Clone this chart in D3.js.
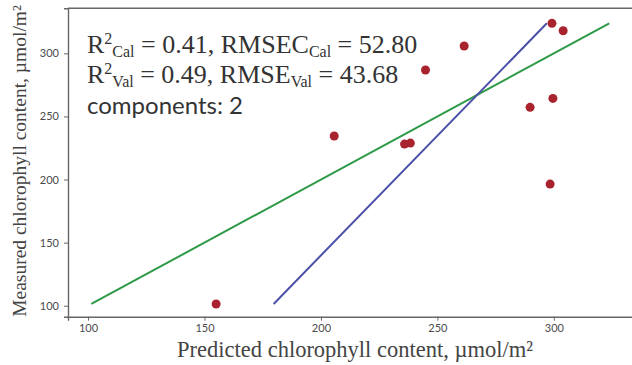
<!DOCTYPE html>
<html>
<head>
<meta charset="utf-8">
<script src="https://cdn.jsdelivr.net/npm/d3@7"></script>
<style>
  body { margin: 0; background: #fff; }
  svg { display: block; }
</style>
</head>
<body>
<svg id="chart"></svg>
<script>
// predicted vs measured chlorophyll (umol/m2)
const predicted = [155.0, 205.7, 235.9, 238.4, 244.9, 261.5, 289.8, 298.4, 299.6, 299.2, 304.0];
const measured  = [101.4, 234.5, 228.1, 228.9, 286.8, 305.8, 257.2, 196.4, 264.3, 323.8, 317.9];

// 1:1 line and fitted line endpoints
const idealLine = [101.4, 323.8];
const fitPredicted = [179.7, 297.0];
const fitMeasured = [101.4, 323.8];

const xTicks = [100, 150, 200, 250, 300];
const yTicks = [100, 150, 200, 250, 300];

const statLines = [
  { r2: "Cal", r2v: "0.41", rm: "RMSEC", rmSub: "Cal", rmv: "52.80" },
  { r2: "Val", r2v: "0.49", rm: "RMSE", rmSub: "Val", rmv: "43.68" }
];
const componentsText = "components: 2";

const width = 632, height = 365;
const svg = d3.select("#chart").attr("width", width).attr("height", height);

const x = d3.scaleLinear().domain([91.4, 337]).range([68, 640]);
const y = d3.scaleLinear().domain([91.3, 335.7]).range([316.7, 8.3]);

const spine = "#666";

// axes
const xAxis = svg.append("g")
  .attr("transform", `translate(0,${y.range()[0]})`)
  .call(d3.axisBottom(x).tickValues(xTicks).tickSize(4).tickPadding(4));
const yAxis = svg.append("g")
  .attr("transform", `translate(${x.range()[0]},0)`)
  .call(d3.axisLeft(y).tickValues(yTicks).tickSize(4).tickPadding(5));

[xAxis, yAxis].forEach(a => {
  a.select(".domain").attr("stroke", spine).attr("stroke-width", 1.4);
  a.selectAll(".tick line").attr("stroke", spine);
  a.selectAll(".tick text")
    .attr("fill", "#4a4a4a")
    .style("font-family", "Lato, 'DejaVu Sans', sans-serif")
    .style("font-size", "11px");
});

// top spine
svg.append("line")
  .attr("x1", x.range()[0]).attr("x2", width)
  .attr("y1", y.range()[1]).attr("y2", y.range()[1])
  .attr("stroke", spine).attr("stroke-width", 1.4);

// 1:1 line
svg.append("line")
  .attr("x1", x(idealLine[0])).attr("y1", y(idealLine[0]))
  .attr("x2", x(idealLine[1])).attr("y2", y(idealLine[1]))
  .attr("stroke", "#2e9a48").attr("stroke-width", 2);

// fitted line
svg.append("line")
  .attr("x1", x(fitPredicted[0])).attr("y1", y(fitMeasured[0]))
  .attr("x2", x(fitPredicted[1])).attr("y2", y(fitMeasured[1]))
  .attr("stroke", "#4b50a8").attr("stroke-width", 2);

// samples
svg.selectAll("circle.pt")
  .data(predicted.map((p, i) => [p, measured[i]]))
  .enter()
  .append("circle")
  .attr("class", "pt")
  .attr("cx", d => x(d[0]))
  .attr("cy", d => y(d[1]))
  .attr("r", 4.5)
  .attr("fill", "#a9232e");

// stats text
const serif = "'Liberation Serif', 'Times New Roman', serif";
statLines.forEach((s, i) => {
  const t = svg.append("text")
    .attr("x", 87).attr("y", 53 + i * 30)
    .style("font-family", serif)
    .style("font-size", "26px")
    .attr("fill", "#333");
  t.append("tspan").text("R");
  t.append("tspan").text("2").attr("dy", -9).style("font-size", "16px");
  t.append("tspan").text(s.r2).attr("dy", 13).style("font-size", "16px");
  t.append("tspan").text(` = ${s.r2v}, ${s.rm}`).attr("dy", -4);
  t.append("tspan").text(s.rmSub).attr("dy", 4).style("font-size", "16px");
  t.append("tspan").text(` = ${s.rmv}`).attr("dy", -4);
});

svg.append("text")
  .attr("x", 87).attr("y", 114)
  .style("font-family", "Lato, 'Open Sans', sans-serif")
  .style("font-size", "24px")
  .attr("fill", "#333")
  .text(componentsText);

// axis labels
svg.append("text")
  .attr("x", 355).attr("y", 357)
  .attr("text-anchor", "middle")
  .style("font-family", serif)
  .style("font-size", "22.5px")
  .attr("fill", "#444")
  .text("Predicted chlorophyll content, \u00b5mol/m\u00b2");

svg.append("text")
  .attr("transform", `translate(26,161) rotate(-90)`)
  .attr("text-anchor", "middle")
  .style("font-family", serif)
  .style("font-size", "19.5px")
  .attr("fill", "#444")
  .text("Measured chlorophyll content, \u00b5mol/m\u00b2");
</script>
</body>
</html>
